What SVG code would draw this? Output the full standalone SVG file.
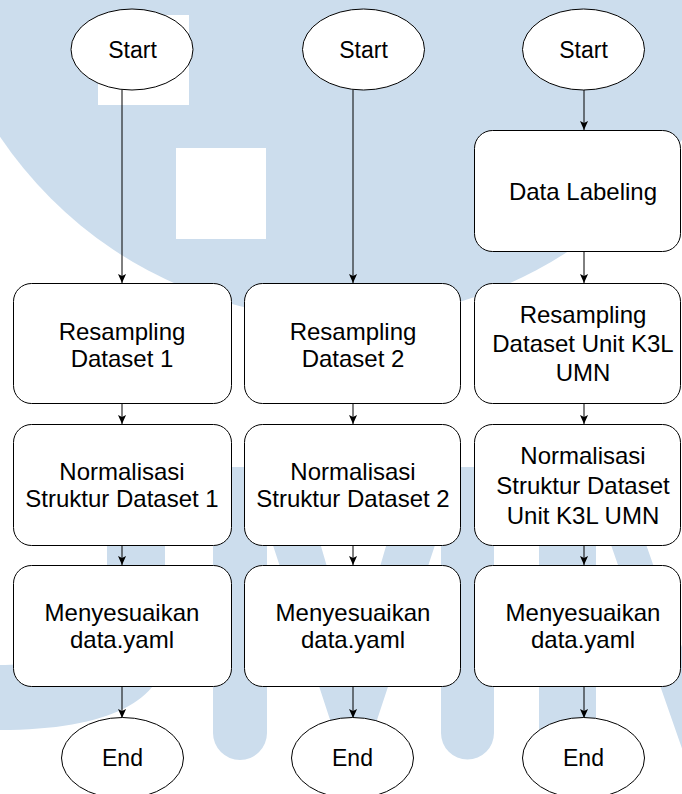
<svg xmlns="http://www.w3.org/2000/svg" width="682" height="794" viewBox="0 0 682 794">
  <defs>
    <style>
      .wm { fill: #ccdded; }
      .node { fill: #ffffff; stroke: #000000; stroke-width: 1; }
      .lbl { font-family: "Liberation Sans", Arial, sans-serif; font-size: 24px; fill: #000000; text-anchor: middle; }
      .elbl { font-family: "Liberation Sans", Arial, sans-serif; font-size: 23px; fill: #000000; text-anchor: middle; }
      .edge { fill: none; stroke: #000000; stroke-width: 1; }
    </style>
    <marker id="arr" viewBox="0 0 10 10" refX="10" refY="5" markerWidth="9" markerHeight="9" markerUnits="userSpaceOnUse" orient="auto">
      <path d="M0,0.5 L10,5 L0,9.5 L2.2,5 Z" fill="#000000"/>
    </marker>
  </defs>
  <rect x="0" y="0" width="682" height="794" fill="#ffffff"/>
  <g id="watermark">
    <circle class="wm" cx="342" cy="-93" r="412"/>
    <rect x="98" y="15" width="91" height="90" fill="#ffffff"/>
    <rect x="176" y="148" width="90" height="91" fill="#ffffff"/>
    <path class="wm" d="M107,467 H165 V650 C165,700 110,730 0,730 V665 C60,665 107,645 107,600 Z"/>
    <path class="wm" d="M213,467 H298 L353.5,658 L409,467 H494 V733 A26.5,26.5 0 0 1 441,733 V527 L372,735 Q353.5,762 335,735 L267,527 V733 A27,27 0 0 1 213,733 Z"/>
    <path class="wm" d="M539,467 H619 L720,756 V800 H700 L596,502 V733 A28.5,28.5 0 0 1 539,733 Z"/>
  </g>
  <g id="connectors">
    <line class="edge" x1="122" y1="90" x2="122" y2="283" marker-end="url(#arr)"/>
    <line class="edge" x1="122" y1="404" x2="122" y2="424" marker-end="url(#arr)"/>
    <line class="edge" x1="122" y1="546" x2="122" y2="565" marker-end="url(#arr)"/>
    <line class="edge" x1="122" y1="687" x2="122" y2="718" marker-end="url(#arr)"/>
    <line class="edge" x1="353" y1="90" x2="353" y2="283" marker-end="url(#arr)"/>
    <line class="edge" x1="353" y1="404" x2="353" y2="424" marker-end="url(#arr)"/>
    <line class="edge" x1="353" y1="546" x2="353" y2="565" marker-end="url(#arr)"/>
    <line class="edge" x1="353" y1="687" x2="353" y2="718" marker-end="url(#arr)"/>
    <line class="edge" x1="584" y1="90" x2="584" y2="130" marker-end="url(#arr)"/>
    <line class="edge" x1="584" y1="252" x2="584" y2="283" marker-end="url(#arr)"/>
    <line class="edge" x1="584" y1="404" x2="584" y2="424" marker-end="url(#arr)"/>
    <line class="edge" x1="584" y1="546" x2="584" y2="565" marker-end="url(#arr)"/>
    <line class="edge" x1="584" y1="687" x2="584" y2="718" marker-end="url(#arr)"/>
  </g>
  <g id="start1"><ellipse class="node" cx="132" cy="49.5" rx="61" ry="40.5"/><text class="elbl" x="132.5" y="58">Start</text></g>
  <g id="start2"><ellipse class="node" cx="363.5" cy="49.5" rx="61" ry="40.5"/><text class="elbl" x="363.5" y="58">Start</text></g>
  <g id="start3"><ellipse class="node" cx="583.5" cy="49.5" rx="61" ry="40.5"/><text class="elbl" x="583.5" y="58">Start</text></g>
  <g id="labeling3"><rect class="node" x="474.5" y="130.5" width="206" height="121" rx="18"/><text class="lbl" x="583" y="200">Data Labeling</text></g>
  <g id="resampling1"><rect class="node" x="13.5" y="283.5" width="218" height="120" rx="18"/><text class="lbl" x="122"><tspan x="122" y="340">Resampling</tspan><tspan x="122" y="367">Dataset 1</tspan></text></g>
  <g id="resampling2"><rect class="node" x="244.5" y="283.5" width="216" height="120" rx="18"/><text class="lbl" x="353"><tspan x="353" y="340">Resampling</tspan><tspan x="353" y="367">Dataset 2</tspan></text></g>
  <g id="resampling3"><rect class="node" x="474.5" y="283.5" width="206" height="120" rx="18"/><text class="lbl" x="583"><tspan x="583" y="322.5">Resampling</tspan><tspan x="583" y="352">Dataset Unit K3L</tspan><tspan x="583" y="381">UMN</tspan></text></g>
  <g id="normalisasi1"><rect class="node" x="13.5" y="424.5" width="218" height="121" rx="18"/><text class="lbl" x="122"><tspan x="122" y="479.5">Normalisasi</tspan><tspan x="122" y="506.5">Struktur Dataset 1</tspan></text></g>
  <g id="normalisasi2"><rect class="node" x="244.5" y="424.5" width="216" height="121" rx="18"/><text class="lbl" x="353"><tspan x="353" y="479.5">Normalisasi</tspan><tspan x="353" y="506.5">Struktur Dataset 2</tspan></text></g>
  <g id="normalisasi3"><rect class="node" x="474.5" y="424.5" width="206" height="121" rx="18"/><text class="lbl" x="583"><tspan x="583" y="464">Normalisasi</tspan><tspan x="583" y="494">Struktur Dataset</tspan><tspan x="583" y="524">Unit K3L UMN</tspan></text></g>
  <g id="yaml1"><rect class="node" x="13.5" y="565.5" width="218" height="121" rx="18"/><text class="lbl" x="122"><tspan x="122" y="620.5">Menyesuaikan</tspan><tspan x="122" y="647.5">data.yaml</tspan></text></g>
  <g id="yaml2"><rect class="node" x="244.5" y="565.5" width="216" height="121" rx="18"/><text class="lbl" x="353"><tspan x="353" y="620.5">Menyesuaikan</tspan><tspan x="353" y="647.5">data.yaml</tspan></text></g>
  <g id="yaml3"><rect class="node" x="474.5" y="565.5" width="206" height="121" rx="18"/><text class="lbl" x="583"><tspan x="583" y="620.5">Menyesuaikan</tspan><tspan x="583" y="647.5">data.yaml</tspan></text></g>
  <g id="end1"><ellipse class="node" cx="122.5" cy="758" rx="61" ry="40.5"/><text class="elbl" x="122.5" y="766">End</text></g>
  <g id="end2"><ellipse class="node" cx="352.5" cy="758" rx="61" ry="40.5"/><text class="elbl" x="352.5" y="766">End</text></g>
  <g id="end3"><ellipse class="node" cx="583.5" cy="758" rx="61" ry="40.5"/><text class="elbl" x="583.5" y="766">End</text></g>
</svg>
